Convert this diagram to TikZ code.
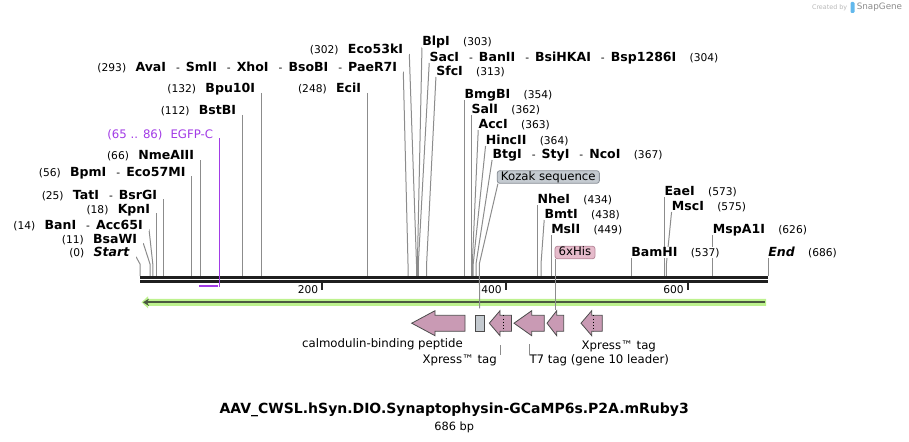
\documentclass[tikz,border=0pt]{standalone}
\usepackage{fontspec}
\setmainfont{DejaVu Sans}
\usetikzlibrary{positioning,arrows.meta}
\pgfdeclarelayer{lines}
\pgfsetlayers{lines,main}
\definecolor{sitegray}{HTML}{8C8C8C}
\definecolor{featpink}{HTML}{C99AB4}
\definecolor{egfppurple}{HTML}{A23BE6}
\definecolor{kozakgray}{HTML}{C4CAD0}
\definecolor{kozakedge}{HTML}{8A9098}
\definecolor{hispink}{HTML}{E6BBCB}
\definecolor{hisedge}{HTML}{B88A9C}
\definecolor{orflight}{HTML}{BDF28E}
\definecolor{orfdark}{HTML}{4B5A40}
\definecolor{logoblue}{HTML}{62B8EC}
\newcommand{\sitepos}[1]{{\mdseries\fontsize{8}{9}\selectfont(#1)}}
\newcommand{\enzsep}{\hspace{7.5pt}{\mdseries\fontsize{8}{9}\selectfont-}\hspace{4.5pt}}
% tip, head base, end of a left pointing feature
\newcommand{\featarrow}[3]{\draw[feat] (#1,323.2) -- (#2,310.7) -- (#2,315.3) -- (#3,315.3) -- (#3,331.3) -- (#2,331.3) -- (#2,335.7) -- cycle;}
\tikzset{
  site/.style={draw=sitegray, line width=0.75pt},
  rline/.style={site, shorten <=1.1pt},
  lsite/.style={anchor=base east, inner xsep=4.5pt, inner ysep=0pt, fill=white,
    font=\fontsize{9.4}{11}\selectfont\bfseries},
  rsite/.style={anchor=base west, inner xsep=0pt, inner ysep=0pt, yshift=1.1pt, fill=white,
    font=\fontsize{9.4}{11}\selectfont\bfseries},
  feat/.style={draw=black!70, fill=featpink, line width=0.6pt},
  flabel/.style={inner sep=0pt, font=\fontsize{8.8}{10}\selectfont},
  tag/.style={rounded corners=2pt, line width=0.6pt, inner xsep=2.8pt, inner ysep=0.5pt,
    text height=6.6pt, text depth=1.9pt, font=\fontsize{8.8}{10}\selectfont},
  tick/.style={line width=1.5pt, black!85},
  ticklabel/.style={inner sep=0pt, font=\fontsize{8}{9}\selectfont}
}
\begin{document}
\begin{tikzpicture}[x=0.75pt, y=-0.75pt]
\useasboundingbox (0,0) rectangle (909,442);

\coordinate (bb) at (0,276); % top of backbone
\coordinate (ky) at (0,264); % kink height

% backbone
\draw[line width=2.25pt, black!88] (140,277.2) -- (768,277.2);
\draw[line width=2.25pt, black!88] (140,281.5) -- (768,281.5);
\draw[tick] (321.5,283.3) -- (321.5,290);
\draw[tick] (505.5,283.3) -- (505.5,290);
\draw[tick] (687.5,283.3) -- (687.5,290);
\node[ticklabel, anchor=east] (t200) at (318.5,289.3) {200};
\node[ticklabel, anchor=east] (t400) at (502,289.3) {400};
\node[ticklabel, anchor=east] (t600) at (684,289.3) {600};

% sites on the backbone
\coordinate (s0) at (140,276);
\coordinate (s11) at (150,276);
\coordinate (s14) at (152.8,276);
\coordinate (s293) at (408,276);
\coordinate (s302) at (416.5,276);
\coordinate (s303) at (417.4,276);
\coordinate (s304) at (418.3,276);
\coordinate (s313) at (426.6,276);
\coordinate (s363) at (472.3,276);
\coordinate (s364) at (473.2,276);
\coordinate (s367) at (476,276);
\coordinate (s438) at (541,276);
\coordinate (s575) at (666.4,276);

% left labels
\node[lsite] (n0) at (136,256.7) {\sitepos{0}\hspace{7pt}\textit{Start}};
\node[lsite] (n11) at (143.3,243.3) {\sitepos{11}\hspace{7pt}BsaWI};
\node[lsite] (n14) at (149,229.3) {\sitepos{14}\hspace{7pt}BanI\enzsep Acc65I};
\node[lsite] (n18) at (156.3,213.3) {\sitepos{18}\hspace{7pt}KpnI};
\node[lsite] (n25) at (163.3,199.3) {\sitepos{25}\hspace{7pt}TatI\enzsep BsrGI};
\node[lsite] (n56) at (191.7,176) {\sitepos{56}\hspace{7pt}BpmI\enzsep Eco57MI};
\node[lsite] (n66) at (200.3,160) {\sitepos{66}\hspace{7pt}NmeAIII};
\node[lsite, text=egfppurple, font=\fontsize{8.8}{10}\selectfont] (egfp) at (219.3,138.3) {(65 .. 86)\hspace{6pt}EGFP-C};
\node[lsite] (n112) at (242.3,115) {\sitepos{112}\hspace{7pt}BstBI};
\node[lsite] (n132) at (261.3,93) {\sitepos{132}\hspace{7pt}Bpu10I};
\node[lsite] (n248) at (367.3,93) {\sitepos{248}\hspace{7pt}EciI};
\node[lsite] (n293) at (403.3,71.7) {\sitepos{293}\hspace{7pt}AvaI\enzsep SmlI\enzsep XhoI\enzsep BsoBI\enzsep PaeR7I};
\node[lsite] (n302) at (409.3,54) {\sitepos{302}\hspace{7pt}Eco53kI};

% right labels
\node[rsite] (n303) at (422,47.3) {BlpI\hspace{10pt}\sitepos{303}};
\node[rsite] (n304) at (429.3,63) {SacI\enzsep BanII\enzsep BsiHKAI\enzsep Bsp1286I\hspace{10pt}\sitepos{304}};
\node[rsite] (n313) at (436,77) {SfcI\hspace{10pt}\sitepos{313}};
\node[rsite] (n354) at (464.3,100) {BmgBI\hspace{10pt}\sitepos{354}};
\node[rsite] (n362) at (471.3,115) {SalI\hspace{10pt}\sitepos{362}};
\node[rsite] (n363) at (478.3,130) {AccI\hspace{10pt}\sitepos{363}};
\node[rsite] (n364) at (485.7,146) {HincII\hspace{10pt}\sitepos{364}};
\node[rsite] (n367) at (492.3,160) {BtgI\enzsep StyI\enzsep NcoI\hspace{10pt}\sitepos{367}};
\node[rsite] (n434) at (537.3,205) {NheI\hspace{10pt}\sitepos{434}};
\node[rsite] (n438) at (544.3,220) {BmtI\hspace{10pt}\sitepos{438}};
\node[rsite] (n449) at (551,235) {MslI\hspace{10pt}\sitepos{449}};
\node[rsite] (n537) at (631,258) {BamHI\hspace{10pt}\sitepos{537}};
\node[rsite] (n573) at (664.3,197) {EaeI\hspace{10pt}\sitepos{573}};
\node[rsite] (n575) at (671.7,212) {MscI\hspace{10pt}\sitepos{575}};
\node[rsite] (n626) at (712.7,235) {MspA1I\hspace{10pt}\sitepos{626}};
\node[rsite] (nend) at (768,258) {\textit{End}\hspace{10pt}\sitepos{686}};

% feature tags above
\node[tag, draw=kozakedge, fill=kozakgray] (kozak) at (548.3,177) {Kozak sequence};
\node[tag, draw=hisedge, fill=hispink] (his) at (575,252.5) {6xHis};

% site lines, behind the labels
\begin{pgfonlayer}{lines}
\draw[site] (n0.base east) -- (s0 |- ky) -- (s0);
\draw[site] (n11.base east) -- (s11 |- ky) -- (s11);
\draw[site] (n14.base east) -- (s14 |- ky) -- (s14);
\draw[site] (n18.base east) -- (n18.base east |- bb);
\draw[site] (n25.base east) -- (n25.base east |- bb);
\draw[site] (n56.base east) -- (n56.base east |- bb);
\draw[site] (n66.base east) -- (n66.base east |- bb);
\draw[site] (n112.base east) -- (n112.base east |- bb);
\draw[site] (n132.base east) -- (n132.base east |- bb);
\draw[site] (n248.base east) -- (n248.base east |- bb);
\draw[site] (n293.base east) -- (s293 |- ky) -- (s293);
\draw[site] (n302.base east) -- (s302 |- ky) -- (s302);
\draw[rline] (n303.base west) -- (s303 |- ky) -- (s303);
\draw[rline] (n304.base west) -- (s304 |- ky) -- (s304);
\draw[rline] (n313.base west) -- (s313 |- ky) -- (s313);
\draw[rline] (n354.base west) -- (n354.base west |- bb);
\draw[rline] (n362.base west) -- (n362.base west |- bb);
\draw[rline] (n363.base west) -- (s363 |- ky) -- (s363);
\draw[rline] (n364.base west) -- (s364 |- ky) -- (s364);
\draw[rline] (n367.base west) -- (s367 |- ky) -- (s367);
\draw[rline] (n434.base west) -- (n434.base west |- bb);
\draw[rline] (n438.base west) -- (s438 |- ky) -- (s438);
\draw[rline] (n449.base west) -- (n449.base west |- bb);
\draw[rline] (n537.base west) -- (n537.base west |- bb);
\draw[rline] (n573.base west) -- (n573.base west |- bb);
\draw[rline] (n575.base west) -- (s575 |- ky) -- (s575);
\draw[rline] (n626.base west) -- (n626.base west |- bb);
\draw[rline] (nend.base west) -- (nend.base west |- bb);
\end{pgfonlayer}

% EGFP-C primer
\draw[egfppurple, line width=0.9pt] (egfp.base east) -- (219.3,287);
\draw[egfppurple, line width=1.5pt] (199,285.7) -- (217.7,285.7);

% ORF arrow
\fill[orflight] (141.5,302.3) -- (148,296.3) -- (148,298.8) -- (766,298.8) -- (766,305.8) -- (148,305.8) -- (148,308.3) -- cycle;
\draw[orfdark, line width=1.3pt, -{Stealth[length=4.5pt,width=5.5pt]}] (765,302.3) -- (143,302.3);

% features
\featarrow{411.7}{435}{465} % calmodulin-binding peptide
\node[draw=black!70, fill=kozakgray, line width=0.6pt, minimum width=7pt, minimum height=12pt, inner sep=0pt] (fkoz) at (479.7,323.3) {};
\featarrow{489.3}{500}{511.5} % Xpress tag
\draw[dotted, black] (503.7,315.3) -- (503.7,331.3);
\featarrow{514}{531.7}{544.3} % T7 tag
\featarrow{547}{556.7}{563.7} % 6xHis
\featarrow{581}{591.7}{602.3} % Xpress tag
\draw[dotted, black] (593.3,315.3) -- (593.3,331.3);

\coordinate (fhis) at (555.3,309.5);
\draw[site] ([xshift=0.8pt]kozak.south west) -- (479.3,264) -- (fkoz.north |- 0,308.3);
\draw[site] (his.south west -| fhis) -- (fhis);

% feature labels
\node[flabel] (lcal) at (382.5,344) {calmodulin-binding peptide};
\node[flabel] (lxp1) at (459.7,360.7) {Xpress™ tag};
\node[flabel, anchor=west] (lt7) at (529.3,360.7) {T7 tag (gene 10 leader)};
\node[flabel] (lxp2) at (618.8,346) {Xpress™ tag};
\draw[site] ([xshift=2.8pt]lxp1.north east) -- ++(0,-10.3);
\draw[site] (lt7.north west) -- ++(0,-10.3);

% title
\node[font=\fontsize{10.5}{12}\selectfont\bfseries, inner sep=0pt] (title) at (454.2,410) {AAV\_CWSL.hSyn.DIO.Synaptophysin-GCaMP6s.P2A.mRuby3};
\node[below=3pt of title, font=\fontsize{8.5}{10}\selectfont, inner sep=0pt] (bplen) {686 bp};

% watermark
\node[anchor=east, text=black!28, font=\fontsize{4.8}{6}\selectfont, inner sep=0pt] (wm1) at (847.5,7.5) {Created by};
\fill[logoblue, rounded corners=0.8pt] (850.5,2) rectangle (854.5,13);
\node[anchor=west, text=black!45, font=\fontsize{6.6}{8}\selectfont, inner sep=0pt] (wm2) at (856.5,7.5) {SnapGene};

\end{tikzpicture}
\end{document}
